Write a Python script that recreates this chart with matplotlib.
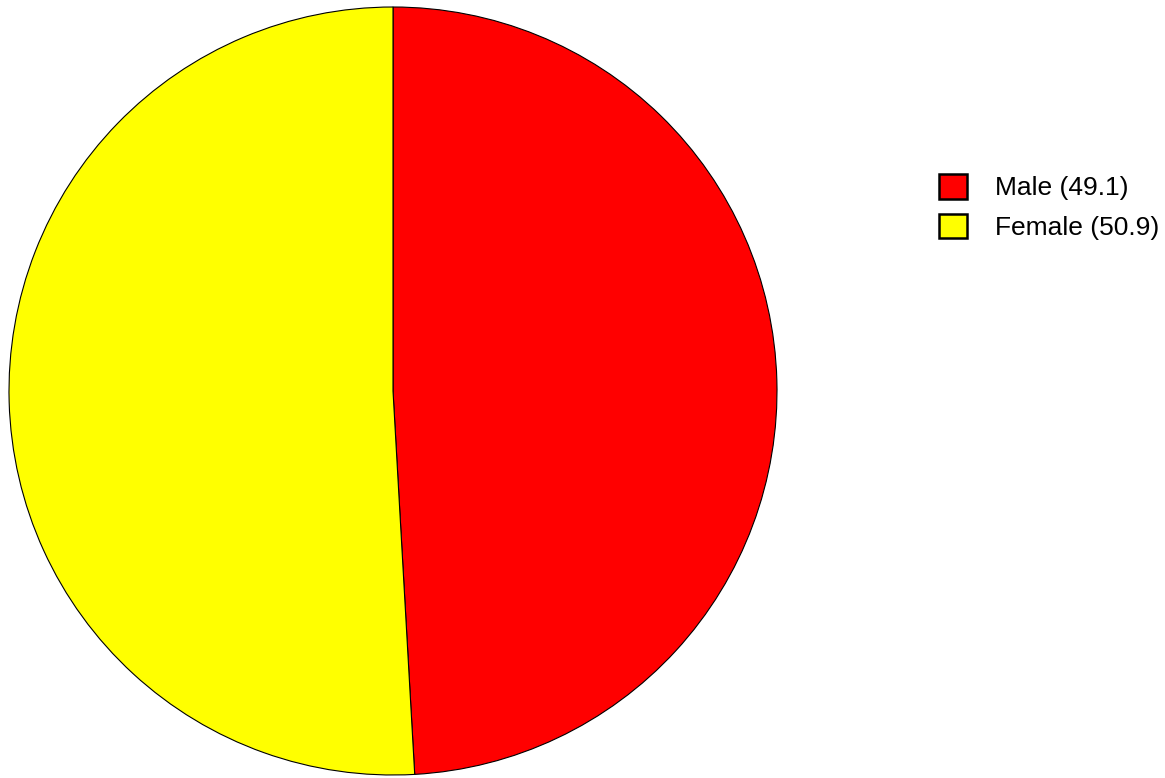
import matplotlib.pyplot as plt
from matplotlib.patches import Patch

plt.rcParams['font.family'] = ['Liberation Sans', 'DejaVu Sans']

labels = ['Male', 'Female']
values = [49.1, 50.9]
colors = ['#ff0000', '#ffff00']

fig = plt.figure(figsize=(11.65, 7.78), dpi=100)
ax = fig.add_axes([9 / 1165, 3 / 778, 768 / 1165, 768 / 778])

ax.pie(values, colors=colors, startangle=90, counterclock=False,
       wedgeprops={'edgecolor': 'black', 'linewidth': 0.8})
ax.set_xlim(-1, 1)
ax.set_ylim(-1, 1)
ax.set_aspect('equal')

handles = [Patch(facecolor=c, edgecolor='black', linewidth=1.8) for c in colors]
legend_labels = [f'{l} ({v})' for l, v in zip(labels, values)]
fig.legend(handles, legend_labels, loc='upper left',
           bbox_to_anchor=(939 / 1165, 1 - 174 / 778),
           frameon=False, fontsize=19, borderpad=0, borderaxespad=0,
           handlelength=1.06, handleheight=1.06, handletextpad=1.06,
           labelspacing=0.5)

fig.savefig('out.png', dpi=100)
